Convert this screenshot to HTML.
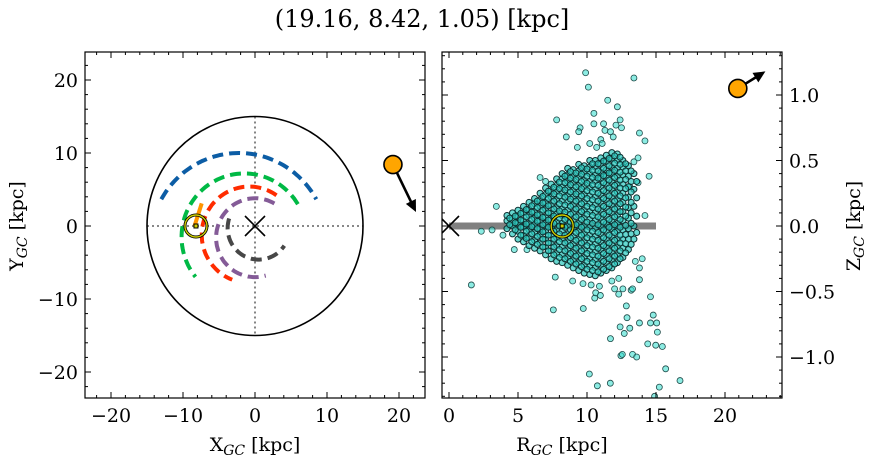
<!DOCTYPE html>
<html><head><meta charset="utf-8"><style>
body{margin:0;background:#fff}
svg text{font-family:"DejaVu Serif","Liberation Serif",serif;fill:#000}
</style></head><body>
<svg id="fig" width="874" height="464" xmlns="http://www.w3.org/2000/svg">
<text x="422" y="27" font-size="24" text-anchor="middle">(19.16, 8.42, 1.05) [kpc]</text>
<g id="L"></g>
<g id="R"></g>
<text x="255" y="451" font-size="19" text-anchor="middle">X<tspan font-size="14" font-style="italic" dy="4">GC</tspan><tspan dy="-4"> [kpc]</tspan></text>
<text x="562" y="451" font-size="19" text-anchor="middle">R<tspan font-size="14" font-style="italic" dy="4">GC</tspan><tspan dy="-4"> [kpc]</tspan></text>
<text transform="translate(23,226) rotate(-90)" font-size="19" text-anchor="middle">Y<tspan font-size="14" font-style="italic" dy="4">GC</tspan><tspan dy="-4"> [kpc]</tspan></text>
<text transform="translate(860,226) rotate(-90)" font-size="19" text-anchor="middle">Z<tspan font-size="14" font-style="italic" dy="4">GC</tspan><tspan dy="-4"> [kpc]</tspan></text>
</svg>
<script>
// ---- data ----
const pos = [19.16, 8.42, 1.05];
const sunX = -8.2;
const galRadius = 15;
// orbit arcs: [centerX, centerY, radius, startDeg, endDeg]
const arcBlue = [-2.25, -2.3, 12.3, 151, 29];
const arcGreen = [-1.5, -1.5, 8.7, 31, 219];
const arcRed = [-0.8, -1.2, 6.6, 55, 249];
const arcPurple = [0, -1.6, 5.4, 60, 286];
const arcGray = [0.5, -0.3, 4.3, 162, 326];
const arcColors = ['#0c5da5', '#00b945', '#ff2c00', '#845b97', '#474747'];
const leftXTicks = [-20, -10, 0, 10, 20];
const leftYTicks = [20, 10, 0, -10, -20];
const rightXTicks = [0, 5, 10, 15, 20];
const rightYTicks = [1.0, 0.5, 0.0, -0.5, -1.0];
const rightYLabels = ['1.0', '0.5', '0.0', '\u22120.5', '\u22121.0'];
const velArrowXY = [3.2, -6.5];
const velArrowRZ = [2.0, 0.13];
// scatter outliers [R, z]
const outliers = [[9.9,1.17],[10.1,1.06],[13.4,1.13],[11.5,0.96],[12.2,0.91],[10.5,0.86],[7.8,0.81],[10.5,0.78],[11.2,0.78],[12.4,0.81],[9.5,0.75],[9.4,0.72],[8.5,0.68],[11.3,0.73],[11.7,0.72],[12.1,0.77],[12.5,0.75],[13.8,0.71],[14.2,0.65],[10.2,0.63],[10.7,0.6],[11.0,0.66],[11.1,0.63],[11.9,0.68],[9.3,0.6],[6.6,0.37],[7.0,0.34],[13.7,0.52],[13.4,0.49],[14.5,0.38],[13.7,0.33],[13.1,0.3],[14.2,0.08],
[3.43,0.15],[2.34,-0.04],[3.12,-0.03],[1.62,-0.45],[3.91,-0.07],[4.73,-0.18],[5.65,-0.18],[7.56,-0.64],[9.73,-0.63],[7.7,-0.39],[8.96,-0.42],[9.71,-0.44],[10.56,-0.55],[10.63,-0.51],[10.97,-0.53],[10.3,-0.45],[10.9,-0.46],[11.7,-0.86],[12.46,-0.99],[12.56,-0.98],[10.17,-1.13],[10.75,-1.22],[11.69,-1.2],[12.85,-0.61],[12.9,-0.7],[12.4,-0.77],[13.1,-0.78],[12.7,-0.82],[13.8,-0.74],[13.3,-0.98],[13.6,-1.0],[14.6,-0.54],[14.8,-0.68],[14.6,-0.74],[15.05,-0.74],[15.1,-0.81],[14.4,-0.9],[14.98,-0.91],[15.46,-0.92],[15.7,-1.09],[15.24,-1.23],[16.74,-1.18],[14.9,-1.3],[12.0,-0.48],[12.3,-0.52],[12.6,-0.48],[13.2,-0.49],[13.3,-0.48],[13.8,-0.32],[13.5,-0.27],[14.0,-0.25],[13.8,-0.41],[12.3,-0.4],[11.8,-0.42]];
// dense core columns: [R, [z values]]
const coreCols = [
[4.2,[-0.02,0.04,0.08]],
[4.6,[-0.06,0,0.05,0.1]],
[5.0,[-0.1,-0.04,0.02,0.07,0.12]],
[5.4,[-0.12,-0.07,-0.01,0.04,0.1,0.15]],
[5.8,[-0.15,-0.09,-0.03,0.02,0.08,0.13,0.18]],
[6.2,[-0.17,-0.11,-0.05,0.01,0.06,0.11,0.17,0.21]],
[6.6,[-0.19,-0.13,-0.07,-0.02,0.04,0.09,0.15,0.2,0.25]],
[7.0,[-0.22,-0.16,-0.1,-0.04,0.02,0.07,0.13,0.18,0.24,0.29]],
[7.4,[-0.25,-0.19,-0.13,-0.07,-0.01,0.05,0.1,0.16,0.22,0.27,0.32]],
[7.8,[-0.27,-0.21,-0.15,-0.09,-0.03,0.03,0.09,0.14,0.2,0.26,0.31,0.36]],
[8.2,[-0.28,-0.22,-0.16,-0.1,-0.04,0.02,0.08,0.13,0.19,0.25,0.3,0.36,0.4]],
[8.6,[-0.3,-0.24,-0.18,-0.12,-0.06,0,0.06,0.12,0.18,0.23,0.29,0.34,0.39,0.44]],
[9.0,[-0.32,-0.26,-0.2,-0.14,-0.08,-0.02,0.04,0.1,0.16,0.22,0.27,0.33,0.38,0.43]],
[9.4,[-0.34,-0.28,-0.22,-0.16,-0.1,-0.04,0.02,0.08,0.14,0.2,0.26,0.31,0.37,0.42,0.47]],
[9.8,[-0.36,-0.3,-0.24,-0.18,-0.12,-0.06,0,0.06,0.12,0.18,0.24,0.3,0.35,0.41,0.46]],
[10.2,[-0.37,-0.31,-0.25,-0.19,-0.13,-0.07,-0.01,0.05,0.11,0.17,0.23,0.29,0.34,0.4,0.45,0.5]],
[10.6,[-0.38,-0.32,-0.26,-0.2,-0.14,-0.08,-0.02,0.04,0.1,0.16,0.22,0.28,0.34,0.39,0.45,0.5]],
[11.0,[-0.36,-0.3,-0.24,-0.18,-0.12,-0.06,0,0.06,0.12,0.18,0.24,0.3,0.36,0.41,0.47,0.52]],
[11.4,[-0.34,-0.28,-0.22,-0.16,-0.1,-0.04,0.02,0.08,0.14,0.2,0.26,0.32,0.38,0.43,0.49,0.54]],
[11.8,[-0.32,-0.26,-0.2,-0.14,-0.08,-0.02,0.04,0.1,0.16,0.22,0.28,0.34,0.4,0.45,0.51,0.56]],
[12.2,[-0.28,-0.22,-0.16,-0.1,-0.04,0.02,0.08,0.14,0.2,0.26,0.32,0.38,0.44,0.5,0.55]],
[12.6,[-0.24,-0.17,-0.1,-0.03,0.04,0.11,0.18,0.25,0.32,0.39,0.45,0.5]],
[13.0,[-0.18,-0.1,-0.02,0.06,0.14,0.22,0.3,0.38,0.46]],
[13.4,[-0.1,0,0.15,0.28,0.4]]
];

const NS='http://www.w3.org/2000/svg';
function mk(parent, tag, attrs){const e=document.createElementNS(NS,tag);for(const k in attrs)e.setAttribute(k,attrs[k]);parent.appendChild(e);return e;}

// ---- left panel axes ----
const L=document.getElementById('L');
const LX0=85,LX1=425,LY0=52,LY1=398;
const lx=v=>255+v*7.2, ly=v=>226-v*7.3;
let e;
e=mk(L,'line',{x1:lx(-galRadius),y1:ly(0),x2:lx(galRadius),y2:ly(0),stroke:'#777','stroke-width':1.8,'stroke-dasharray':'2 3'});


e=mk(L,'line',{x1:lx(0),y1:ly(galRadius),x2:lx(0),y2:ly(-galRadius),stroke:'#777','stroke-width':1.8,'stroke-dasharray':'2 3'});


e=mk(L,'ellipse',{cx:lx(0),cy:ly(0),rx:galRadius*7.2,ry:galRadius*7.3,fill:'none',stroke:'#000','stroke-width':1.6});


const arcs=[arcBlue,arcGreen,arcRed,arcPurple,arcGray];
const arcNames=['orbit-blue','orbit-green','orbit-red','orbit-purple','orbit-gray'];
arcs.forEach((a,i)=>{
  const [cx,cy,r,s,end]=a;
  let pts=[];let n=60;
  for(let k=0;k<=n;k++){const t=(s+(end-s)*k/n)*Math.PI/180;pts.push(lx(cx+r*Math.cos(t)).toFixed(1)+','+ly(cy+r*Math.sin(t)).toFixed(1));}
  const p=mk(L,'polyline',{points:pts.join(' '),fill:'none',stroke:arcColors[i],'stroke-width':4,'stroke-dasharray':'11 6'});
  
  
});
e=mk(L,'line',{x1:lx(-8.4),y1:ly(0),x2:lx(-7.4),y2:ly(3.1),stroke:'#ff9500','stroke-width':4});


function sun(g,x,y){
  const c=mk(g,'circle',{cx:x,cy:y,r:11,fill:'none',stroke:'#000','stroke-width':3});
  
  
  const c2=mk(g,'circle',{cx:x,cy:y,r:11,fill:'none',stroke:'#cccc00','stroke-width':1.4});
  
  
  const s=mk(g,'rect',{x:x-2,y:y-2,width:4,height:4,fill:'#cccc00',stroke:'#000','stroke-width':1});
  
  
}
sun(L,lx(sunX),ly(0));
function cross(g,x,y,name){
  const p=mk(g,'path',{d:`M${x-10},${y-10}L${x+10},${y+10}M${x-10},${y+10}L${x+10},${y-10}`,stroke:'#000','stroke-width':1.6});
  
  
}
cross(L,lx(0),ly(0),'galactic-center-marker');
function arrow(g,x1,y1,x2,y2,name){
  const ang=Math.atan2(y2-y1,x2-x1);
  const ln=mk(g,'line',{x1,y1,x2:x2-9*Math.cos(ang),y2:y2-9*Math.sin(ang),stroke:'#000','stroke-width':2.6});
  
  
  const a1=ang+2.7,a2=ang-2.7;
  const h=mk(g,'polygon',{points:`${x2},${y2} ${x2+13*Math.cos(a1)},${y2+13*Math.sin(a1)} ${x2+13*Math.cos(a2)},${y2+13*Math.sin(a2)}`,fill:'#000'});
  
  
}
arrow(L,lx(pos[0]),ly(pos[1]),lx(pos[0]+velArrowXY[0]),ly(pos[1]+velArrowXY[1]),'velocity-arrow-xy');
e=mk(L,'circle',{cx:lx(pos[0]),cy:ly(pos[1]),r:9,fill:'#ffa500',stroke:'#000','stroke-width':1.6});



function frame(g,x0,y0,x1,y1,name){
  const r=mk(g,'rect',{x:x0,y:y0,width:x1-x0,height:y1-y0,fill:'none',stroke:'#000','stroke-width':1.2});
  
  
}
function ticksX(g,fx,lo,hi,step,len,y0,y1){for(let v=lo;v<=hi+1e-9;v+=step){const x=fx(v);mk(g,'line',{x1:x,y1:y1,x2:x,y2:y1-len,stroke:'#000','stroke-width':1});mk(g,'line',{x1:x,y1:y0,x2:x,y2:y0+len,stroke:'#000','stroke-width':1});}}
function ticksY(g,fy,lo,hi,step,len,x0,x1){for(let v=lo;v<=hi+1e-9;v+=step){const y=fy(v);mk(g,'line',{x1:x0,y1:y,x2:x0+len,y2:y,stroke:'#000','stroke-width':1});mk(g,'line',{x1:x1,y1:y,x2:x1-len,y2:y,stroke:'#000','stroke-width':1});}}
frame(L,LX0,LY0,LX1,LY1,'xy-plot-frame');
ticksX(L,lx,-22,22,2,3,LY0,LY1);ticksX(L,lx,-20,20,10,6,LY0,LY1);
ticksY(L,ly,-22,22,2,3,LX0,LX1);ticksY(L,ly,-20,20,10,6,LX0,LX1);
leftXTicks.forEach(v=>{const t=mk(L,'text',{x:lx(v),y:422,'font-size':19,'text-anchor':'middle'});t.textContent=v<0?'\u2212'+(-v):v;});
leftYTicks.forEach(v=>{const t=mk(L,'text',{x:78,y:ly(v)+7,'font-size':19,'text-anchor':'end'});t.textContent=v<0?'\u2212'+(-v):v;});

// ---- right panel ----
const R=document.getElementById('R');
const RX0=442,RX1=782,RY0=52,RY1=398;
const rx=v=>449+v*13.8, ry=v=>226-v*131;
const clip=mk(R,'clipPath',{id:'rclip'});mk(clip,'rect',{x:RX0,y:RY0,width:RX1-RX0,height:RY1-RY0});
const rg=mk(R,'g',{'clip-path':'url(#rclip)'});


e=mk(rg,'line',{x1:rx(0),y1:ry(0),x2:rx(galRadius),y2:ry(0),stroke:'#808080','stroke-width':7});


function star(R0,z,dense){
  const c=mk(rg,'circle',{cx:rx(R0),cy:ry(z),r:3,fill:dense?'rgba(40,200,190,0.7)':'rgba(64,224,208,0.6)',stroke:dense?'#0e3030':'#1f4a48','stroke-width':dense?1:0.8});
  
  
}
outliers.forEach(p=>star(p[0],p[1],false));
coreCols.forEach(col=>col[1].forEach(z=>star(col[0],z,true)));
coreCols.forEach(col=>col[1].forEach((z,i)=>{if(i<col[1].length-1)star(col[0]+0.2,(z+col[1][i+1])/2,true);}));
sun(rg,rx(-sunX),ry(0));
cross(rg,rx(0),ry(0),'galactic-center-marker-rz');
const Rgc=Math.hypot(pos[0],pos[1]);
arrow(rg,rx(Rgc),ry(pos[2]),rx(Rgc+velArrowRZ[0]),ry(pos[2]+velArrowRZ[1]),'velocity-arrow-rz');
e=mk(rg,'circle',{cx:rx(Rgc),cy:ry(pos[2]),r:9,fill:'#ffa500',stroke:'#000','stroke-width':1.6});


frame(R,RX0,RY0,RX1,RY1,'rz-plot-frame');
ticksX(R,rx,0,24,1,3,RY0,RY1);ticksX(R,rx,0,20,5,6,RY0,RY1);
ticksY(R,ry,-1.3,1.3,0.1,3,RX0,RX1);ticksY(R,ry,-1,1,0.5,6,RX0,RX1);
rightXTicks.forEach(v=>{const t=mk(R,'text',{x:rx(v),y:422,'font-size':19,'text-anchor':'middle'});t.textContent=v;});
rightYTicks.forEach((v,i)=>{const t=mk(R,'text',{x:789,y:ry(v)+7,'font-size':19,'text-anchor':'start'});t.textContent=rightYLabels[i];});
</script>
</body></html>
